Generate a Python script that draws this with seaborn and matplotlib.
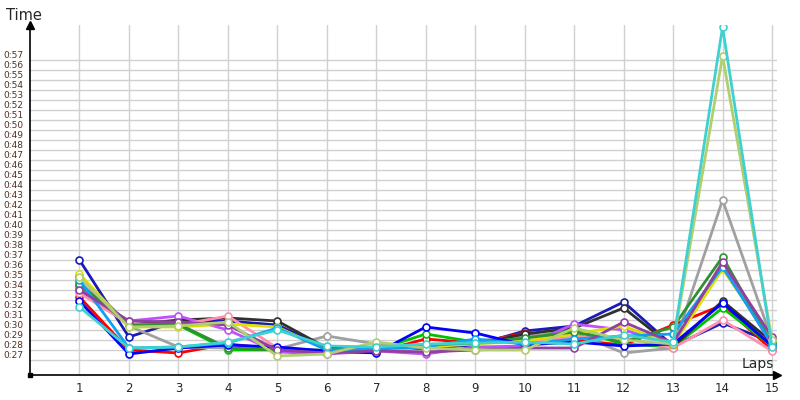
import matplotlib
matplotlib.use("Agg")
import matplotlib.pyplot as plt
import seaborn as sns
import numpy as np
import pandas as pd

sns.set_style("white")
plt.rcParams['font.family'] = ['DejaVu Sans']

# lap times in seconds, one list per driver
laps = list(range(1, 16))
darkblue = [37.0, 29.3, 30.9, 30.9, 30.5, 28.2, 27.9, 28.2, 28.5, 29.9, 30.4, 32.8, 28.4, 30.7, 28.8]
red = [33.3, 28.0, 27.7, 28.6, 28.1, 27.9, 27.8, 29.1, 28.7, 29.7, 29.0, 28.5, 30.5, 32.5, 28.0]
green = [34.4, 30.5, 30.5, 28.0, 28.0, 27.9, 28.0, 29.6, 28.8, 29.2, 30.0, 28.6, 28.3, 32.2, 28.4]
cyan = [32.3, 28.2, 28.3, 28.8, 30.0, 28.4, 28.3, 28.6, 28.7, 28.8, 28.6, 29.5, 28.8, 60.3, 28.3]
yellowgreen = [35.3, 30.3, 30.4, 30.8, 27.4, 27.6, 28.8, 28.2, 28.0, 28.0, 30.2, 29.0, 28.6, 57.4, 29.0]
gray = [34.8, 30.4, 28.3, 28.2, 28.1, 29.4, 28.6, 28.2, 28.9, 29.4, 29.7, 27.7, 28.2, 43.0, 29.0]
black = [35.4, 30.5, 31.0, 31.2, 30.9, 28.2, 28.0, 28.4, 28.6, 29.6, 30.2, 32.2, 28.3, 32.9, 28.8]
violet = [34.1, 30.9, 31.4, 30.0, 27.8, 27.6, 27.9, 27.6, 28.3, 28.4, 30.6, 30.0, 28.6, 36.5, 28.5]
pink = [33.7, 30.6, 30.5, 31.4, 28.2, 27.8, 27.8, 28.3, 28.8, 28.9, 29.3, 29.2, 28.2, 31.0, 27.9]
yellow = [35.6, 30.3, 30.3, 30.6, 30.3, 28.0, 28.0, 28.3, 28.6, 28.9, 29.6, 30.4, 28.5, 36.1, 28.9]
darkgreen = [34.6, 30.5, 30.6, 28.2, 28.0, 28.0, 28.1, 28.5, 28.7, 29.2, 29.8, 28.8, 30.3, 37.3, 28.6]
blue = [32.9, 27.6, 28.2, 28.5, 28.3, 27.9, 27.7, 30.3, 29.7, 28.5, 28.8, 28.4, 28.6, 32.7, 28.4]
skyblue = [35.0, 28.2, 28.3, 28.7, 30.2, 28.0, 28.1, 28.3, 29.1, 28.6, 29.1, 29.4, 29.6, 36.3, 28.6]
purple = [34.0, 30.9, 30.8, 30.5, 28.0, 27.7, 27.9, 27.8, 28.0, 28.2, 28.2, 30.8, 28.7, 36.8, 29.3]

series = {
    "darkblue": darkblue, "red": red, "green": green, "gray": gray,
    "black": black, "violet": violet, "pink": pink, "yellow": yellow,
    "darkgreen": darkgreen, "blue": blue, "skyblue": skyblue,
    "purple": purple, "yellowgreen": yellowgreen, "cyan": cyan,
}
palette = {
    "darkblue": "#1a1ab8", "red": "#ff0000", "green": "#00c000",
    "cyan": "#40d0d0", "yellowgreen": "#b0d070", "gray": "#a0a0a0",
    "black": "#303030", "violet": "#c050ff", "pink": "#ff90b0",
    "yellow": "#e0e000", "darkgreen": "#309030", "blue": "#0000ff",
    "skyblue": "#10a0f0", "purple": "#9040a0",
}

rows = []
for name, vals in series.items():
    for lap, v in zip(laps, vals):
        rows.append({"Lap": lap, "Time": v, "Driver": name})
df = pd.DataFrame(rows)

fig = plt.figure(figsize=(8, 4), dpi=100)
ax = fig.add_axes([30 / 800, 25 / 400, 747 / 800, 350 / 400])

sns.lineplot(data=df, x="Lap", y="Time", hue="Driver", palette=palette,
             marker="o", markersize=5, linewidth=2, legend=False, ax=ax)
for line in ax.lines:
    line.set_markeredgecolor(line.get_color())
    line.set_markerfacecolor("white")
    line.set_markeredgewidth(1.2)

ax.set_xlim(0, 15.1)
ax.set_ylim(25.5, 60.5)

# grid
ax.set_xticks(laps)
ax.set_xticklabels([str(l) for l in laps])
ax.set_yticks(np.arange(27, 58))
ax.set_yticklabels([])
ax.set_yticks(np.arange(27, 58) + 0.5, minor=True)
ax.set_yticklabels([f"0:{s}" for s in range(27, 58)], minor=True)
ax.grid(True, which="major", color="#d0d0d0", linewidth=1)
ax.tick_params(axis="x", length=0, pad=5, labelsize=8.5)
ax.tick_params(axis="y", which="both", length=0)
ax.tick_params(axis="y", which="minor", pad=19, labelsize=6.5, labelcolor="#503020")
for t in ax.yaxis.get_minorticklabels():
    t.set_horizontalalignment("left")

for side in ["top", "right"]:
    ax.spines[side].set_visible(False)
for side in ["left", "bottom"]:
    ax.spines[side].set_color("black")
    ax.spines[side].set_linewidth(1.2)

# axis arrows and origin
ax.plot(1, 0, ">k", markersize=6, transform=ax.transAxes, clip_on=False)
ax.plot(0, 1, "^k", markersize=6, transform=ax.transAxes, clip_on=False)
ax.plot(0, 0, "sk", markersize=3, transform=ax.transAxes, clip_on=False)

ax.set_xlabel("")
ax.set_ylabel("")
fig.text(6 / 800, 1 - 15 / 400, "Time", fontsize=10.5, va="center", ha="left")
fig.text(742 / 800, 1 - 364 / 400, "Laps", fontsize=10, va="center", ha="left")

fig.savefig("out.png", dpi=100)
plt.close(fig)
